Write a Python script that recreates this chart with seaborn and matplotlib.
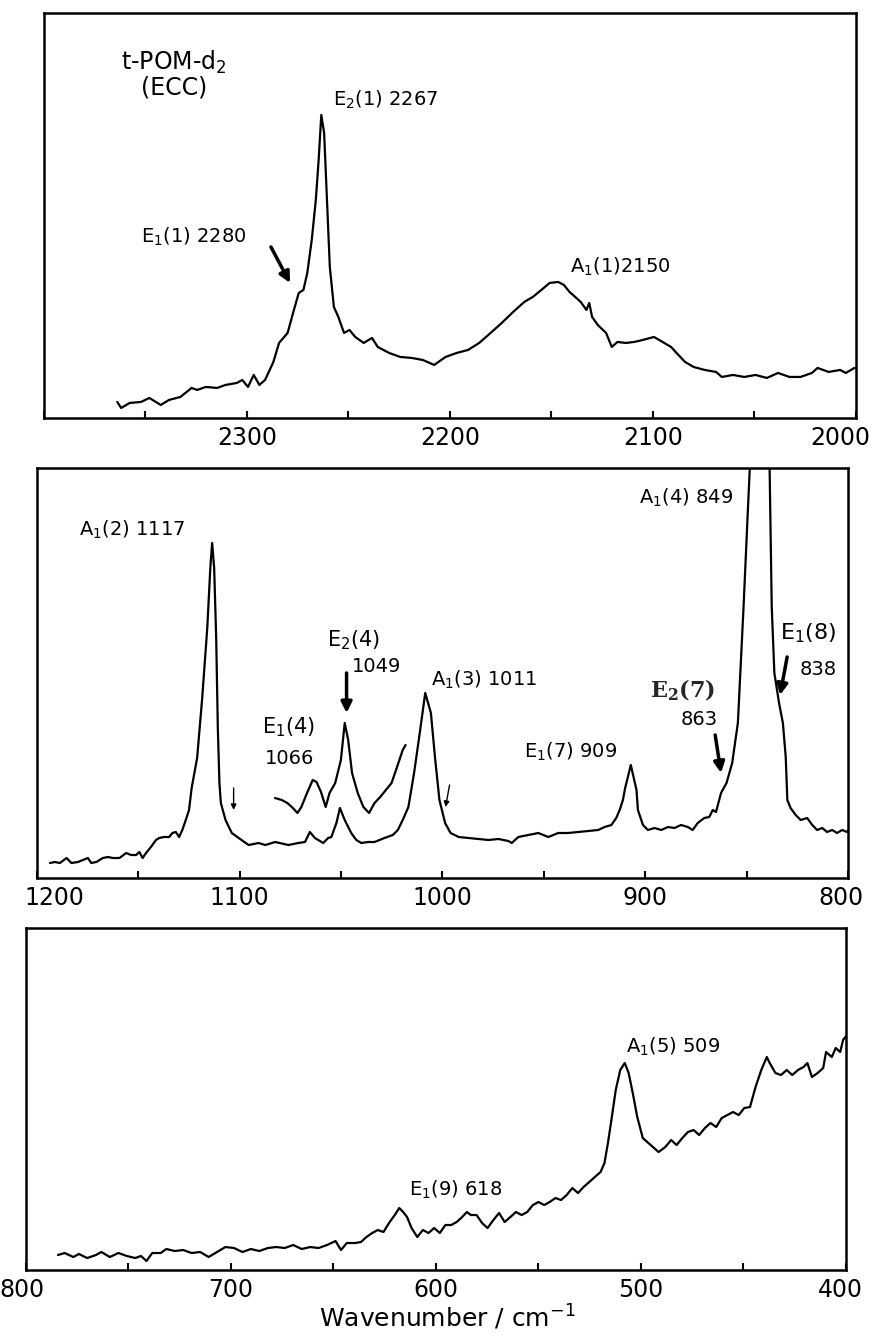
import numpy as np
import pandas as pd
import matplotlib
matplotlib.use("Agg")
import matplotlib.pyplot as plt
import matplotlib.transforms as mtransforms
import seaborn as sns
from matplotlib.ticker import MultipleLocator

# ---------------- data ----------------
# Panel 1 : 2400-2000 cm-1
wn1 = [2363.9, 2362.0, 2357.8, 2352.2, 2348.1, 2342.5, 2338.4, 2332.8, 2327.3, 2324.5,
       2320.3, 2314.7, 2310.6, 2305.0, 2302.3, 2299.5, 2296.7, 2293.9, 2291.1, 2287.0,
       2284.2, 2280.0, 2277.3, 2274.5, 2272.2, 2270.3, 2268.1, 2266.1, 2264.7, 2263.4,
       2262.0, 2260.6, 2259.2, 2257.2, 2255.0, 2252.2, 2249.5, 2246.7, 2242.5, 2238.4,
       2235.6, 2230.0, 2224.5, 2218.9, 2213.4, 2207.8, 2202.2, 2196.7, 2191.1, 2185.6,
       2180.0, 2174.5, 2168.9, 2163.4, 2159.2, 2155.0, 2150.9, 2146.7, 2143.9, 2141.1,
       2138.3, 2135.6, 2132.8, 2131.4, 2130.0, 2127.2, 2123.1, 2120.3, 2117.5, 2113.4,
       2109.2, 2105.0, 2099.5, 2095.3, 2091.1, 2088.4, 2084.2, 2080.0, 2074.5, 2068.9,
       2066.1, 2060.6, 2055.0, 2049.5, 2043.9, 2038.4, 2032.8, 2027.3, 2021.7, 2018.9,
       2013.4, 2007.8, 2005.0, 2000.8, 1998.5]
int1 = [16, 10, 15, 16, 20, 13, 18, 21, 30, 28,
        31, 30, 33, 35, 38, 31, 43, 33, 38, 56,
        75, 85, 105, 125, 128, 145, 178, 218, 258, 303,
        285, 218, 151, 111, 101, 85, 88, 81, 75, 80,
        71, 65, 61, 60, 58, 53, 61, 65, 68, 75,
        85, 95, 106, 116, 121, 128, 135, 136, 133, 126,
        121, 116, 108, 115, 101, 93, 85, 71, 76, 75,
        76, 78, 81, 76, 71, 65, 56, 51, 48, 46,
        41, 43, 41, 43, 40, 45, 41, 41, 45, 50,
        46, 48, 45, 50, 49]

# Panel 2 : 1200-800 cm-1, main trace
wn2 = [1193.6, 1191.2, 1188.7, 1185.4, 1183.0, 1179.8, 1177.3, 1174.9, 1173.2, 1170.7,
       1167.5, 1165.0, 1162.6, 1159.3, 1156.0, 1153.6, 1151.1, 1149.5, 1147.9, 1146.2,
       1143.8, 1141.3, 1139.7, 1137.3, 1134.8, 1133.2, 1131.5, 1129.9, 1128.3, 1126.6,
       1125.0, 1123.7, 1121.0, 1118.5, 1116.0, 1114.5, 1113.6, 1112.6, 1111.6, 1110.8,
       1110.0, 1109.3, 1107.0, 1103.9, 1100.5, 1095.6, 1090.7, 1087.4, 1082.5, 1076.0,
       1071.1, 1067.8, 1065.4, 1062.9, 1058.8, 1056.4, 1054.8, 1052.3, 1050.6, 1048.2,
       1045.0, 1042.5, 1040.0, 1036.8, 1033.5, 1028.6, 1024.5, 1022.0, 1019.6, 1016.8,
       1014.0, 1011.2, 1008.5, 1005.7, 1003.7, 1001.5, 998.7, 996.0, 992.0, 987.1,
       982.2, 977.3, 972.4, 967.5, 965.8, 962.6, 957.6, 952.7, 947.8, 942.9,
       938.0, 933.1, 928.2, 923.2, 920.0, 916.7, 914.3, 912.6, 911.0, 909.9,
       907.1, 904.3, 903.6, 901.1, 898.7, 895.4, 892.1, 888.8, 885.6, 882.3,
       879.0, 876.6, 874.1, 870.9, 868.4, 866.7, 865.1, 862.6, 859.9, 857.1,
       854.3, 851.5, 849.3, 847.5, 845.0, 843.0, 840.5, 838.8, 837.6, 836.3,
       834.0, 832.1, 830.7, 829.9, 828.3, 825.8, 823.3, 820.1, 817.6, 815.2,
       812.7, 810.3, 807.8, 805.4, 802.9, 800.4, 799.1]
int2 = [15, 16, 15, 20, 15, 16, 18, 20, 15, 16,
        20, 21, 20, 20, 25, 23, 23, 26, 20, 25,
        31, 38, 40, 41, 41, 45, 46, 41, 48, 58,
        68, 90, 120, 180, 250, 310, 335, 310, 240, 150,
        95, 75, 58, 45, 40, 33, 35, 33, 36, 33,
        35, 36, 46, 40, 35, 40, 41, 55, 70, 58,
        45, 38, 35, 36, 36, 40, 43, 48, 58, 71,
        105, 145, 185, 165, 121, 78, 55, 45, 41, 40,
        39, 38, 39, 37, 35, 41, 43, 45, 41, 45,
        45, 46, 47, 48, 51, 53, 60, 68, 78, 90,
        113, 88, 68, 53, 48, 50, 48, 51, 50, 53,
        51, 48, 55, 60, 61, 68, 66, 85, 95, 115,
        155, 271, 371, 450, 600, 650, 600, 430, 271, 205,
        175, 155, 121, 78, 70, 63, 58, 60, 53, 48,
        50, 46, 48, 45, 48, 46, 50]

# Panel 2 : expanded (offset) trace 1083-1018 cm-1
wn2u = [1082.6, 1079.3, 1076.5, 1073.8, 1071.5, 1069.6, 1066.8, 1064.0, 1062.1, 1059.9,
        1057.6, 1055.7, 1052.9, 1050.1, 1048.2, 1046.5, 1044.6, 1041.8, 1039.0, 1036.2,
        1033.5, 1030.7, 1027.9, 1025.1, 1022.4, 1019.6, 1018.2]
int2u = [80, 78, 75, 70, 65, 71, 85, 98, 96, 86,
         71, 85, 95, 118, 155, 138, 105, 85, 71, 65,
         75, 81, 88, 95, 111, 128, 133]

# Panel 3 : 800-400 cm-1
wn3 = [784.4, 781.1, 776.9, 774.2, 770.1, 765.9, 763.2, 759.1, 754.9, 750.8,
       746.7, 743.9, 741.2, 738.4, 734.3, 731.5, 727.4, 723.3, 719.2, 715.0,
       710.9, 706.8, 702.7, 698.5, 694.4, 690.3, 686.2, 682.0, 677.9, 673.8,
       669.6, 665.5, 661.4, 657.3, 653.1, 649.0, 646.3, 643.5, 639.4, 636.6,
       633.9, 631.1, 628.4, 625.6, 622.9, 620.1, 617.9, 616.0, 614.1, 611.9,
       609.1, 606.4, 603.6, 600.9, 598.1, 595.4, 592.6, 589.9, 587.7, 584.9,
       583.0, 580.2, 577.5, 574.8, 572.0, 569.2, 566.5, 563.7, 561.0, 558.2,
       555.5, 552.7, 550.0, 547.2, 544.5, 541.7, 539.0, 536.2, 533.5, 530.7,
       528.0, 525.2, 522.5, 519.7, 517.8, 516.1, 514.2, 512.3, 510.1, 507.9,
       506.0, 504.0, 501.8, 499.1, 496.3, 493.6, 491.4, 488.1, 485.3, 482.6,
       479.8, 477.1, 474.3, 471.6, 468.8, 466.1, 463.3, 460.6, 457.8, 455.1,
       452.3, 449.6, 446.8, 444.1, 441.3, 438.6, 437.2, 434.4, 431.7, 428.9,
       426.2, 423.4, 420.7, 418.8, 416.6, 413.8, 411.1, 409.7, 406.9, 405.0,
       402.8, 401.4, 399.5]
int3 = [15, 17, 13, 16, 12, 15, 18, 13, 17, 14,
        12, 14, 9, 17, 17, 21, 19, 20, 17, 18,
        13, 18, 23, 22, 18, 21, 19, 22, 23, 22,
        25, 21, 23, 22, 25, 29, 20, 27, 27, 28,
        33, 37, 40, 38, 47, 55, 62, 58, 53, 42,
        33, 40, 37, 42, 37, 45, 45, 48, 52, 58,
        55, 55, 47, 42, 50, 57, 48, 53, 58, 55,
        58, 65, 68, 65, 68, 72, 70, 75, 82, 77,
        83, 88, 93, 98, 107, 127, 153, 180, 200, 207,
        197, 177, 153, 132, 127, 122, 118, 123, 130, 125,
        132, 138, 140, 135, 142, 147, 143, 152, 155, 158,
        155, 162, 163, 183, 200, 213, 207, 197, 195, 200,
        195, 200, 203, 207, 193, 197, 202, 218, 213, 222,
        218, 230, 235]

# Tick values
ticks1 = [2300, 2200, 2100, 2000]
ticks2 = [1200, 1100, 1000, 900, 800]
ticks3 = [800, 700, 600, 500, 400]

# ---------------- style ----------------
sns.set_theme(style="white")
plt.rcParams["font.family"] = ["DejaVu Sans"]
plt.rcParams["mathtext.default"] = "regular"

fig = plt.figure(figsize=(8.8, 13.37), dpi=100)
ax1 = fig.add_axes([0.050, 0.6874, 0.9227, 0.3029])
ax2 = fig.add_axes([0.042, 0.3433, 0.9216, 0.3067])
ax3 = fig.add_axes([0.0295, 0.0501, 0.9318, 0.2558])

LW = 1.6
kw = dict(color="black", linewidth=LW, estimator=None, legend=False)
sns.lineplot(data=pd.DataFrame({"wn": wn1, "I": int1}), x="wn", y="I", ax=ax1, **kw)
sns.lineplot(data=pd.DataFrame({"wn": wn2, "I": int2}), x="wn", y="I", ax=ax2, **kw)
sns.lineplot(data=pd.DataFrame({"wn": wn2u, "I": int2u}), x="wn", y="I", ax=ax2, **kw)
sns.lineplot(data=pd.DataFrame({"wn": wn3, "I": int3}), x="wn", y="I", ax=ax3, **kw)

for ax, lim, yl, tk in [(ax1, (2400, 2000), (0, 405), ticks1),
                        (ax2, (1200, 800), (0, 410), ticks2),
                        (ax3, (800, 400), (0, 342), ticks3)]:
    ax.set_xlim(*lim)
    ax.set_ylim(*yl)
    ax.set_xticks(tk)
    ax.set_xticklabels([str(t) for t in tk])
    ax.xaxis.set_minor_locator(MultipleLocator(50))
    ax.set_yticks([])
    ax.set_xlabel("")
    ax.set_ylabel("")
    ax.tick_params(axis="x", which="both", direction="in", length=5, width=1.5,
                   labelsize=17, pad=6, colors="black", bottom=True, top=False)
    for s in ax.spines.values():
        s.set_visible(True)
        s.set_color("black")
        s.set_linewidth(1.8)
    ax.set_facecolor("white")

# shift end tick labels horizontally as in the reference (pixel offsets)
def shift_label(ax, idx, dx_px):
    lbl = ax.get_xticklabels()[idx]
    off = mtransforms.ScaledTranslation(dx_px / 100.0, 0, fig.dpi_scale_trans)
    lbl.set_transform(lbl.get_transform() + off)

shift_label(ax1, 3, -16)
shift_label(ax2, 0, 17)
shift_label(ax2, 4, -7)
shift_label(ax3, 0, -4)
shift_label(ax3, 4, -6)

def lab(ax, x, y, s, size=14, **k):
    ax.text(x, y, s, ha="left", va="center", fontsize=size, color="black", **k)

def arrow(ax, tail, head, lw=2.5, ms=16):
    ax.annotate("", xy=head, xytext=tail,
                arrowprops=dict(arrowstyle="-|>", lw=lw, color="black",
                                mutation_scale=ms, shrinkA=0, shrinkB=0))

# Panel 1 annotations
lab(ax1, 2362, 356, r"t-POM-d$_2$", size=17)
lab(ax1, 2352, 330, "(ECC)", size=17)
lab(ax1, 2257.6, 318, r"E$_2$(1) 2267", size=14)
lab(ax1, 2352.2, 181, r"E$_1$(1) 2280", size=14)
lab(ax1, 2140.9, 151, r"A$_1$(1)2150", size=14)
arrow(ax1, (2288.2, 171), (2278.8, 135))

# Panel 2 annotations
lab(ax2, 1179.3, 348, r"A$_1$(2) 1117", size=14)
lab(ax2, 1057.1, 238, r"E$_2$(4)", size=15)
lab(ax2, 1044.8, 211, "1049", size=14)
lab(ax2, 1089.2, 151, r"E$_1$(4)", size=15)
lab(ax2, 1087.7, 119, "1066", size=14)
lab(ax2, 1005.9, 198, r"A$_1$(3) 1011", size=14)
lab(ax2, 959.6, 126, r"E$_1$(7) 909", size=14)
ax2.text(897.5, 188, r"E$_\mathbf{2}$(7)", ha="left", va="center", fontsize=16,
         family="DejaVu Serif", weight="bold", math_fontfamily="dejavuserif")
lab(ax2, 882.3, 158, "863", size=14)
lab(ax2, 902.9, 380, r"A$_1$(4) 849", size=14)
lab(ax2, 833.5, 245, r"E$_1$(8)", size=16)
lab(ax2, 823.6, 208, "838", size=14)
arrow(ax2, (1047.3, 205), (1047.3, 165))
arrow(ax2, (865.5, 143), (862.6, 105))
arrow(ax2, (830.0, 221), (833.5, 183))
arrow(ax2, (1103.0, 90), (1103.0, 68), lw=1.0, ms=8)
arrow(ax2, (996.5, 93), (998.5, 71), lw=1.0, ms=8)

# Panel 3 annotations
lab(ax3, 507.3, 223, r"A$_1$(5) 509", size=14)
lab(ax3, 613.2, 80, r"E$_1$(9) 618", size=14)

fig.text(447 / 880, 1 - 1317 / 1337, r"Wavenumber / cm$^{-1}$", ha="center",
         va="center", fontsize=18, color="black")

fig.savefig("out.png", dpi=100, facecolor="white")
